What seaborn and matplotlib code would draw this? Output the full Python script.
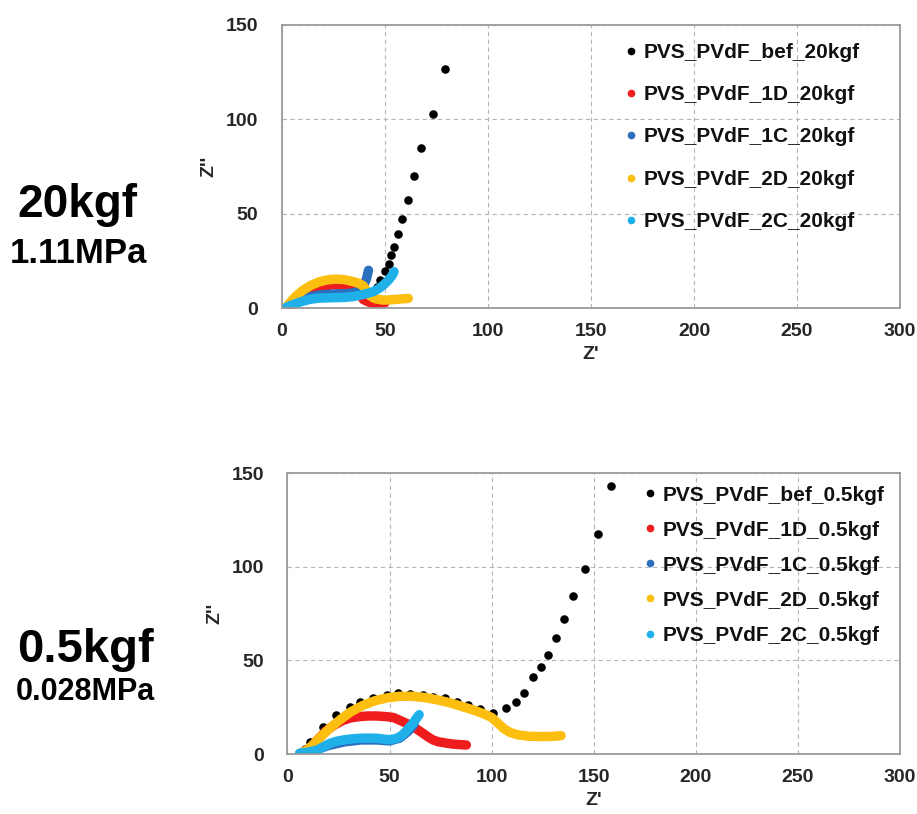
import matplotlib
matplotlib.use("Agg")
import matplotlib.pyplot as plt
from matplotlib.lines import Line2D
import numpy as np
import pandas as pd
import seaborn as sns

# series order (Excel style): bef, 1D, 1C, 2D, 2C
tags = ["bef", "1D", "1C", "2D", "2C"]
colors = ["#000000", "#ee1c1c", "#2b6fbf", "#fdbf0f", "#1fb0ea"]

# ---- 20kgf (1.11MPa) ----
bef_20_x = [4, 6, 9, 13, 17, 22, 27, 32, 37, 41, 44, 46, 47.6, 49.8, 51.9, 53, 54.4, 56.1, 58.4, 61.3, 64, 67.7, 73.2, 78.9]
bef_20_y = [0.5, 3, 6, 8.5, 10.5, 11.5, 12, 11.5, 10, 8.5, 8.5, 11.3, 14.8, 19.8, 23.4, 28, 32.6, 39, 47, 57, 70, 85, 103, 126.6]
d1_20_x = [3, 5, 8, 11, 15, 19, 23, 26.5, 30, 33, 36, 38, 39.5, 42, 44.3, 47, 50]
d1_20_y = [0, 2, 5, 7.5, 10, 11.5, 12.2, 12.4, 12, 11, 9.5, 7, 4.5, 3.2, 2.5, 2.5, 2.8]
c1_20_x = [3, 5, 8, 12, 18.4, 26.5, 31, 34.6, 37.5, 39.5, 41, 42]
c1_20_y = [0, 2, 3.8, 5.5, 7, 7.5, 7.6, 8, 9, 11.3, 15.5, 20]
d2_20_x = [2.3, 4, 6.5, 10.3, 14, 18.4, 22.5, 26.5, 30.5, 34.6, 37.5, 39.5, 41, 42.7, 45, 49, 52, 55.7, 58.5, 61.3]
d2_20_y = [0.7, 3, 6, 9.5, 12, 14, 15, 15.3, 15, 14, 13, 11.7, 9, 6.5, 5, 4.2, 4.3, 4.6, 4.9, 5.1]
c2_20_x = [1.5, 4, 7.1, 10, 13.6, 17.5, 21.7, 25.5, 29.8, 34, 37.9, 41, 44.3, 47, 49.2, 51, 52.4, 53.6, 54.4]
c2_20_y = [0, 1.3, 2.5, 3.6, 4.6, 5.2, 5.4, 5.5, 5.6, 6, 6.8, 7.6, 8.7, 10.3, 12.2, 14, 15.7, 17.5, 19.3]

# ---- 0.5kgf (0.028MPa) ----
bef_05_x = [8.5, 11, 17.5, 24, 30.6, 35.5, 42, 48.5, 54.2, 60, 66.4, 71.3, 77, 82.8, 88.6, 94.2, 100.7, 107, 112, 116, 120, 124.4, 127.6, 131.4, 135.5, 140, 145.5, 152, 158.3]
bef_05_y = [2.5, 6.6, 14.6, 21, 25.3, 28, 29.8, 31.5, 32.4, 32, 31.5, 30.6, 29.8, 28, 26.2, 23.9, 22, 24.4, 28, 32.5, 41, 46.7, 53, 62, 72, 84.5, 99, 117.5, 143]
d1_05_x = [7, 10, 13, 16, 19, 23, 27.3, 31, 35.5, 39.5, 43.6, 48, 51.8, 55, 58, 61.5, 64, 66.4, 69, 71.3, 74, 77.9, 81, 84.4, 87.6]
d1_05_y = [0.5, 2.5, 5.5, 9, 12.5, 15.5, 18, 19.3, 20, 20.3, 20.3, 20, 19.5, 18, 16.5, 14.6, 12.8, 11, 9, 7.5, 6.5, 5.8, 5.3, 5, 4.8]
c1_05_x = [6, 12, 20, 28, 36, 44, 50, 55, 59, 62]
c1_05_y = [0.3, 1.5, 4.5, 6.5, 7.5, 7.5, 7, 8.5, 12, 16]
d2_05_x = [7, 10, 13, 17, 21, 26, 31, 37, 43, 49, 55, 61, 67, 73, 79, 85, 91, 96, 100, 103, 106, 109, 113, 118, 124, 130, 134]
d2_05_y = [0.5, 2.5, 5.5, 10, 14, 18.5, 22.5, 26, 28.5, 30, 30.8, 30.8, 30.2, 29, 27.5, 25.5, 23.5, 21.5, 19.5, 16.5, 13.5, 11.5, 10.2, 9.5, 9.3, 9.4, 9.8]
c2_05_x = [6, 10, 14.3, 17.5, 20.8, 24, 27.3, 31.5, 35.5, 39.5, 43.6, 47, 50, 53, 55.5, 57.5, 59.5, 61.5, 63, 64.5]
c2_05_y = [0.4, 1, 2, 3.8, 5.7, 6.8, 7.5, 8.1, 8.4, 8.5, 8.4, 8, 7.6, 8.2, 9.5, 11.5, 14, 16.5, 18.8, 21]

panels = [
    ("20kgf", [(bef_20_x, bef_20_y), (d1_20_x, d1_20_y), (c1_20_x, c1_20_y), (d2_20_x, d2_20_y), (c2_20_x, c2_20_y)]),
    ("0.5kgf", [(bef_05_x, bef_05_y), (d1_05_x, d1_05_y), (c1_05_x, c1_05_y), (d2_05_x, d2_05_y), (c2_05_x, c2_05_y)]),
]

x_ticks = [0, 50, 100, 150, 200, 250, 300]
y_ticks = [0, 50, 100, 150]

sns.set_style("white")
plt.rcParams["font.family"] = ["Liberation Sans", "DejaVu Sans"]
plt.rcParams["font.weight"] = "bold"

fig = plt.figure(figsize=(9.17, 8.14), dpi=100)
ax1 = fig.add_axes([0.3075, 0.6216, 0.674, 0.3477])
ax2 = fig.add_axes([0.3135, 0.0737, 0.668, 0.3452])
legend_pos = [(0.557, 0.937, 1.12), (0.584, 0.955, 0.77)]

for ax, (load, series), (lx, ly, lsp) in zip([ax1, ax2], panels, legend_pos):
    handles = []
    for tag, col, (xs, ys) in zip(tags, colors, series):
        df = pd.DataFrame({"x": xs, "y": ys})
        if tag == "bef":
            sns.scatterplot(data=df, x="x", y="y", color=col, s=38, linewidth=0, ax=ax)
        else:
            sns.lineplot(data=df, x="x", y="y", color=col, lw=6.8, sort=False,
                         solid_capstyle="round", solid_joinstyle="round", ax=ax)
        handles.append(Line2D([], [], ls="", marker="o", ms=4.5, color=col,
                              label=f"PVS_PVdF_{tag}_{load}"))
    ax.set_xlim(0, 300)
    ax.set_ylim(0, 150)
    ax.set_xticks(x_ticks)
    ax.set_yticks(y_ticks)
    ax.grid(True, ls=(0, (4, 3)), color="#b5b5b5", lw=0.8)
    for sp in ax.spines.values():
        sp.set_color("#9a9a9a")
        sp.set_linewidth(1.3)
    ax.tick_params(axis="x", length=0, pad=11, labelsize=14, colors="#262626")
    ax.tick_params(axis="y", length=0, pad=17, labelsize=14, colors="#262626")
    for lab in ax.get_xticklabels() + ax.get_yticklabels():
        lab.set_fontweight("bold")
    ax.set_xlabel("Z'", fontsize=14, fontweight="bold", color="#262626", labelpad=4)
    ax.set_ylabel("Z''", fontsize=14, fontweight="bold", color="#262626", labelpad=6)
    ax.legend(handles=handles, loc="upper left", bbox_to_anchor=(lx, ly), frameon=False,
              borderaxespad=0, borderpad=0, handlelength=0.5, handletextpad=0.35,
              labelspacing=lsp, prop={"size": 15, "weight": "bold"}, labelcolor="#111111")

fig.text(0.084, 0.734, "20kgf", ha="center", va="baseline", fontsize=33, fontweight="bold", color="black")
fig.text(0.085, 0.677, "1.11MPa", ha="center", va="baseline", fontsize=25, fontweight="bold", color="black")
fig.text(0.093, 0.187, "0.5kgf", ha="center", va="baseline", fontsize=34, fontweight="bold", color="black")
fig.text(0.093, 0.140, "0.028MPa", ha="center", va="baseline", fontsize=22, fontweight="bold", color="black")

fig.savefig("out.png", dpi=100)
